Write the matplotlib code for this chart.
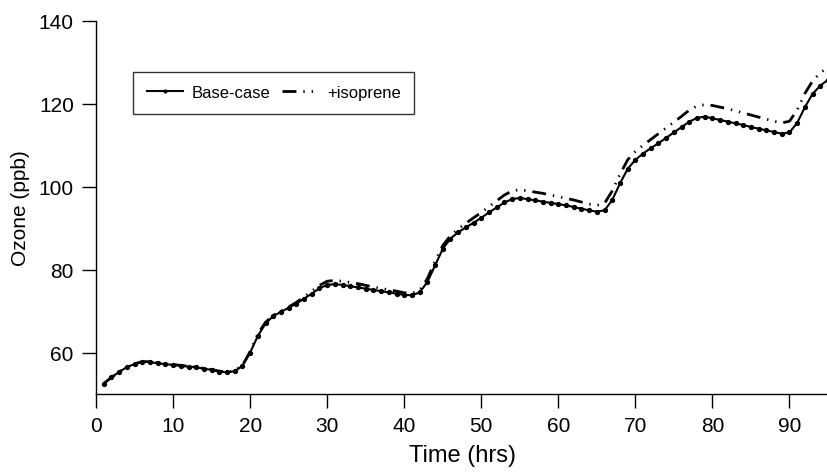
import matplotlib
matplotlib.use("Agg")
import matplotlib.pyplot as plt

plt.rcParams['font.family'] = ['Liberation Sans', 'DejaVu Sans']

# hourly model output, ozone in ppb
hours = list(range(1, 96))

base_case = [
    52.5, 54.0, 55.3, 56.5, 57.2, 57.7, 57.7, 57.4, 57.2, 57.0,
    56.8, 56.6, 56.4, 56.1, 55.8, 55.4, 55.2, 55.5, 56.8, 60.0,
    64.0, 67.0, 68.8, 69.8, 70.8, 71.8, 73.0, 74.2, 75.5, 76.3,
    76.5, 76.3, 76.0, 75.7, 75.4, 75.1, 74.8, 74.5, 74.2, 73.9,
    73.8, 74.5, 77.0, 81.0, 85.0, 87.5, 89.0, 90.2, 91.3, 92.5,
    93.8, 95.0, 96.2, 97.0, 97.3, 97.0, 96.7, 96.4, 96.1, 95.8,
    95.5, 95.1, 94.7, 94.3, 94.0, 94.3, 96.8, 100.8, 104.3, 106.5,
    108.0, 109.3, 110.5, 111.8, 113.1, 114.4, 115.7, 116.6, 116.9, 116.5,
    116.1, 115.7, 115.3, 114.9, 114.4, 114.0, 113.6, 113.2, 112.8, 113.1,
    115.4, 119.2, 122.4, 124.4, 125.8,
]

isoprene = [
    52.5, 54.0, 55.3, 56.5, 57.3, 57.8, 57.8, 57.5, 57.3, 57.1,
    56.9, 56.7, 56.5, 56.2, 55.9, 55.5, 55.3, 55.6, 56.9, 60.2,
    64.5, 67.3, 69.0, 70.0, 71.0, 72.1, 73.4, 74.8, 76.2, 77.2,
    77.4, 77.2, 76.9, 76.6, 76.2, 75.8, 75.5, 75.1, 74.8, 74.4,
    74.3, 75.0, 77.8, 82.0, 85.8, 88.2, 89.8, 91.2, 92.5, 93.8,
    95.2, 96.6, 98.0, 99.0, 99.3, 99.0, 98.7, 98.4, 98.0, 97.6,
    97.2, 96.8, 96.3, 95.8, 95.5, 96.0, 99.0, 103.0, 106.5, 108.5,
    110.0, 111.4, 112.8, 114.2, 115.6, 117.0, 118.5, 119.5, 119.8, 119.6,
    119.2, 118.8, 118.3, 117.8, 117.3, 116.8, 116.3, 115.8, 115.4, 115.8,
    118.5, 122.5, 125.5, 127.5, 128.8,
]

fig = plt.figure(figsize=(8.28, 4.77), dpi=100)
ax = fig.add_axes([0.116, 0.172, 0.884, 0.782])

ax.plot(hours, isoprene, color='black', linewidth=2.0,
        linestyle=(0, (5, 2.5, 0.5, 2.5, 0.5, 2.5)), label='+isoprene')
ax.plot(hours, base_case, color='black', linewidth=1.5,
        marker='o', markersize=2.8, label='Base-case')

ax.set_xlim(0, 95)
ax.set_ylim(50, 140)
ax.set_xticks(range(0, 100, 10))
ax.set_yticks([60, 80, 100, 120, 140])

for side in ['top', 'right']:
    ax.spines[side].set_visible(False)
for side in ['left', 'bottom']:
    ax.spines[side].set_linewidth(1.0)
ax.tick_params(direction='out', length=10, width=1.0, labelsize=15, pad=6)

ax.set_xlabel('Time (hrs)', fontsize=17, labelpad=6)
ax.set_ylabel('Ozone (ppb)', fontsize=15, labelpad=6)

handles, labels = ax.get_legend_handles_labels()
leg = fig.legend(handles[::-1], labels[::-1], loc='upper left',
                 bbox_to_anchor=(0.161, 0.847), ncol=2, fontsize=12,
                 frameon=True, fancybox=False, handlelength=2.2,
                 handletextpad=0.5, columnspacing=0.7, borderpad=0.8,
                 borderaxespad=0, markerscale=0.7, numpoints=1)
leg.get_frame().set_edgecolor('black')
leg.get_frame().set_linewidth(1.0)

fig.savefig('out.png', dpi=100)
